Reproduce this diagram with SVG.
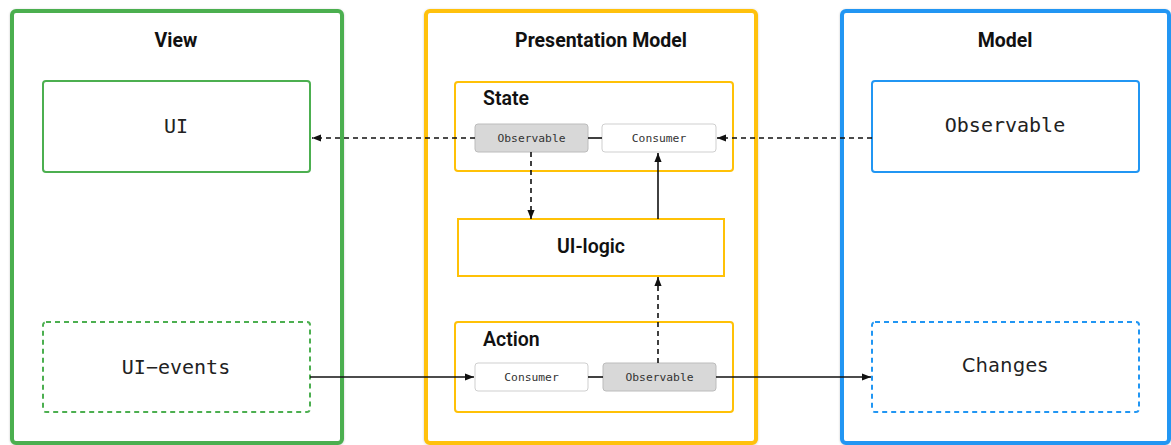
<svg xmlns="http://www.w3.org/2000/svg" width="1171" height="445" viewBox="0 0 1171 445">
  <defs>
    <marker id="arrow" viewBox="0 0 10 10" refX="10" refY="5" markerWidth="9" markerHeight="9" markerUnits="userSpaceOnUse" orient="auto">
      <path d="M0,1 L10,5 L0,9 Z" fill="#111"/>
    </marker>
    <filter id="shadow" x="-5%" y="-5%" width="110%" height="110%">
      <feDropShadow dx="0" dy="0.5" stdDeviation="1" flood-color="#000" flood-opacity="0.2"/>
    </filter>
  </defs>
  <style>
    .panel { fill: #fff; stroke-width: 4; }
    .green { stroke: #4caf50; }
    .amber { stroke: #ffc107; }
    .blue { stroke: #2196f3; }
    .box { fill: #fff; stroke-width: 2; }
    .dash { stroke-dasharray: 5 4; }
    .title { font-family: Roboto, "Liberation Sans", sans-serif; font-weight: 700; font-size: 19.5px; fill: #111; text-anchor: middle; }
    .sub { font-family: Roboto, "Liberation Sans", sans-serif; font-weight: 600; font-size: 19.5px; fill: #111; }
    .mono { font-family: "DejaVu Sans Mono", "Liberation Mono", monospace; font-size: 20px; fill: #222; text-anchor: middle; }
    .chip { stroke-width: 1; }
    .chip-w { fill: #fff; stroke: #cfcfcf; }
    .chip-g { fill: #d8d8d8; stroke: #bcbcbc; }
    .chiptext { font-family: "DejaVu Sans Mono", "Liberation Mono", monospace; font-size: 11.3px; fill: #333; text-anchor: middle; }
    .solid { stroke: #111; stroke-width: 1.6; fill: none; }
    .dashed { stroke: #111; stroke-width: 1.6; fill: none; stroke-dasharray: 5 4; }
  </style>

  <!-- View column -->
  <g id="view">
    <rect class="panel green" x="12" y="11" width="330" height="432" rx="4" filter="url(#shadow)"/>
    <text class="title" x="176" y="47">View</text>
  </g>
  <g id="ui">
    <rect class="box green" x="43" y="81" width="267" height="91" rx="3"/>
    <text class="mono" x="176" y="133">UI</text>
  </g>
  <g id="ui-events">
    <rect class="box green dash" x="43" y="322" width="267" height="90" rx="3"/>
    <text class="mono" x="176" y="374">UI−events</text>
  </g>

  <!-- Presentation Model column -->
  <g id="presentation-model">
    <rect class="panel amber" x="426" y="11" width="330" height="432" rx="4" filter="url(#shadow)"/>
    <text class="title" x="601" y="47">Presentation Model</text>
  </g>
  <g id="state">
    <rect class="box amber" x="455" y="82" width="278" height="89" rx="3"/>
    <text class="sub" x="483" y="105">State</text>
  </g>
  <g id="state-observable">
    <rect class="chip chip-g" x="475" y="124" width="113" height="28" rx="3"/>
    <text class="chiptext" x="531.5" y="142">Observable</text>
  </g>
  <g id="state-consumer">
    <rect class="chip chip-w" x="602" y="124" width="114" height="28" rx="3"/>
    <text class="chiptext" x="659" y="142">Consumer</text>
  </g>
  <g id="ui-logic">
    <rect class="box amber" x="458" y="219" width="266" height="57"/>
    <text class="sub" x="591" y="253" text-anchor="middle" font-size="20.5">UI-logic</text>
  </g>
  <g id="action">
    <rect class="box amber" x="455" y="322" width="278" height="90" rx="3"/>
    <text class="sub" x="483" y="346">Action</text>
  </g>
  <g id="action-consumer">
    <rect class="chip chip-w" x="475" y="363" width="113" height="28" rx="3"/>
    <text class="chiptext" x="531.5" y="381">Consumer</text>
  </g>
  <g id="action-observable">
    <rect class="chip chip-g" x="603" y="363" width="113" height="28" rx="3"/>
    <text class="chiptext" x="659.5" y="381">Observable</text>
  </g>

  <!-- Model column -->
  <g id="model">
    <rect class="panel blue" x="842" y="11" width="327" height="432" rx="4" filter="url(#shadow)"/>
    <text class="title" x="1005" y="47">Model</text>
  </g>
  <g id="model-observable">
    <rect class="box blue" x="872" y="81" width="267" height="91" rx="3"/>
    <text class="mono" x="1005" y="132">Observable</text>
  </g>
  <g id="changes">
    <rect class="box blue dash" x="872" y="322" width="267" height="90" rx="3"/>
    <text x="1005" y="372" font-family="'DejaVu Sans', 'Liberation Sans', sans-serif" font-size="19" fill="#222" text-anchor="middle" letter-spacing="0.5">Changes</text>
  </g>

  <!-- Connectors -->
  <g id="connectors">
    <line class="dashed" x1="475" y1="138" x2="312" y2="138" marker-end="url(#arrow)"/>
    <line class="dashed" x1="872" y1="138" x2="717" y2="138" marker-end="url(#arrow)"/>
    <line class="solid" x1="588" y1="138" x2="602" y2="138" stroke-width="2.5"/>
    <line class="dashed" x1="531" y1="152" x2="531" y2="219" marker-end="url(#arrow)"/>
    <line class="solid" x1="658" y1="219" x2="658" y2="153" marker-end="url(#arrow)"/>
    <line class="dashed" x1="658" y1="363" x2="658" y2="277" marker-end="url(#arrow)"/>
    <line class="solid" x1="310" y1="377" x2="474" y2="377" marker-end="url(#arrow)"/>
    <line class="solid" x1="588" y1="377" x2="603" y2="377" stroke-width="2.5"/>
    <line class="solid" x1="716" y1="377" x2="871" y2="377" marker-end="url(#arrow)"/>
  </g>
</svg>
